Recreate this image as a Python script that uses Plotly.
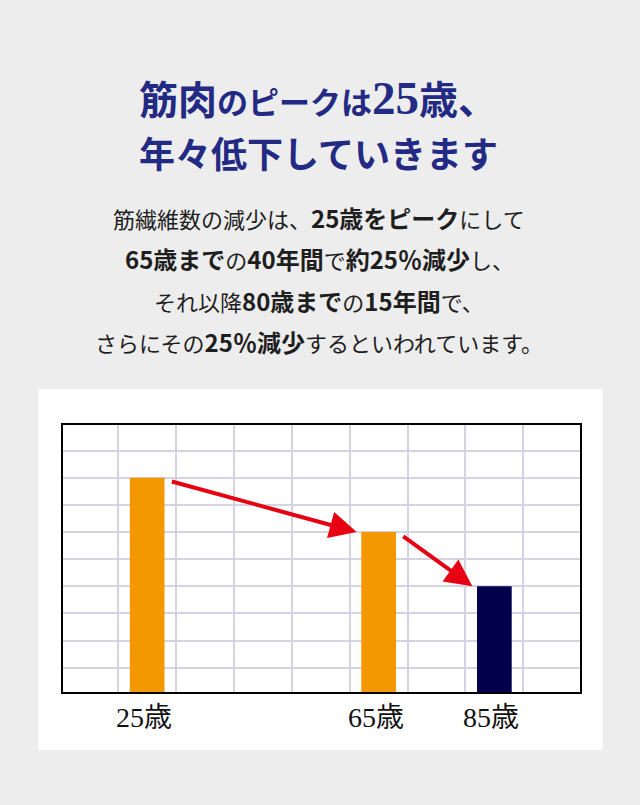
import plotly.graph_objects as go

# chart data
ages = ['25歳', '65歳', '85歳']
bar_x = [1.5, 5.5, 7.5]
bar_y = [8, 6, 4]
bar_colors = ['#f39800', '#f39800', '#02004a']
bar_w = 0.6

title_lines = [
    "<span style='font-size:39px'>筋肉</span><span style='font-size:31px'>のピークは</span>"
    "<span style='font-family:Liberation Serif;font-size:47px'>25</span><span style='font-size:39px'>歳、</span>",
    "年々低下していきます",
]
body_lines = [
    "筋繊維数の減少は、<b><span style='font-size:24px'>25歳をピーク</span></b>にして",
    "<b><span style='font-size:24px'>65歳まで</span></b>の<b><span style='font-size:24px'>40年間</span></b>で"
    "<b><span style='font-size:24px'>約25％減少</span></b>し、",
    "それ以降<b><span style='font-size:24px'>80歳まで</span></b>の<b><span style='font-size:24px'>15年間</span></b>で、",
    "さらにその<b><span style='font-size:24px'>25％減少</span></b>するといわれています。",
]

# plot area in pixels (page is 640 x 805)
L, R, T, B = 63, 580, 425, 692.5


def py(y):
    # pixel y on page -> paper y
    return (B - y) / (B - T)


def px(x):
    return (x - L) / (R - L)


fig = go.Figure()
fig.add_trace(go.Bar(x=bar_x, y=bar_y, width=bar_w,
                     marker=dict(color=bar_colors, line=dict(width=0)),
                     hoverinfo='skip'))

shapes = [dict(type='rect', xref='paper', yref='paper', layer='below',
               x0=px(38.5), x1=px(602.5), y0=py(750.5), y1=py(389),
               fillcolor='white', line=dict(width=0))]

annotations = []
for i, t in enumerate(title_lines):
    annotations.append(dict(xref='paper', yref='paper', x=px(318), y=py([96, 151][i]),
                            text=t, showarrow=False, xanchor='center', yanchor='middle',
                            font=dict(family='Noto Sans CJK JP', size=36, color='#232a83', weight=700)))
for i, t in enumerate(body_lines):
    annotations.append(dict(xref='paper', yref='paper', x=px(319), y=py([217, 258, 300, 341][i]),
                            text=t, showarrow=False, xanchor='center', yanchor='middle',
                            font=dict(family='Noto Sans CJK JP', size=22, color='#1e1e1e')))
for x, a in zip(bar_x, ages):
    annotations.append(dict(xref='x', yref='paper', x=x, y=py(718), xshift=-3,
                            text=a, showarrow=False, xanchor='center', yanchor='middle',
                            font=dict(family='Liberation Serif, Noto Sans CJK JP', size=28, color='#111111')))
# arrows between bar tops
for i in range(len(bar_x) - 1):
    annotations.append(dict(xref='x', yref='y', axref='x', ayref='y',
                            x=bar_x[i + 1] - bar_w / 2 - 0.08, y=bar_y[i + 1],
                            ax=bar_x[i] + bar_w / 2 + 0.1, ay=bar_y[i] - 0.12,
                            text='', showarrow=True, arrowhead=2, arrowsize=1.35,
                            arrowwidth=4, arrowcolor='#e60012', standoff=0))

fig.update_layout(
    width=640, height=805,
    margin=dict(l=L, r=640 - R, t=T, b=805 - B, pad=0),
    paper_bgcolor='#ededed', plot_bgcolor='white',
    showlegend=False,
    shapes=shapes, annotations=annotations,
    xaxis=dict(range=[0.045, 8.98], tick0=0, dtick=1, showgrid=True, gridcolor='#d3d3e4',
               gridwidth=1.5, zeroline=False, showticklabels=False, ticks='',
               showline=True, linecolor='black', linewidth=2, mirror=True, fixedrange=True),
    yaxis=dict(range=[0.1, 9.95], tick0=0, dtick=1, showgrid=True, gridcolor='#d3d3e4',
               gridwidth=1.5, zeroline=False, showticklabels=False, ticks='',
               showline=True, linecolor='black', linewidth=2, mirror=True, fixedrange=True),
)

# no default page margin, so the figure sits at the page corner
fig.write_html("out.html", config={'displayModeBar': False},
               post_script="document.body.style.margin='0';")
